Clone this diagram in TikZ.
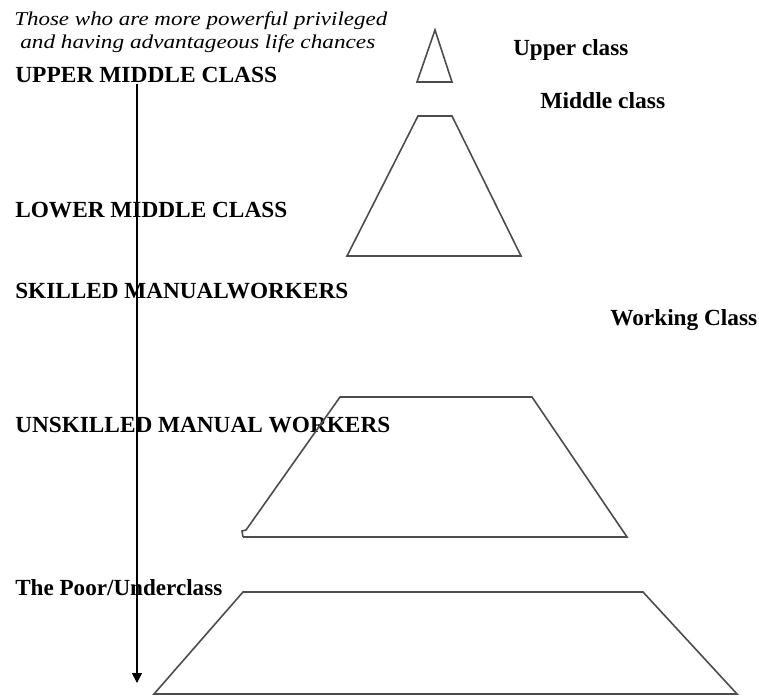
\documentclass[tikz,border=0pt]{standalone}
\usepackage{fontspec}
\setmainfont{Liberation Serif}
\usetikzlibrary{arrows.meta}
\newcommand\fitw[2]{\resizebox{\dimexpr0.75pt*#1\relax}{\height}{#2}}
\tikzset{
  lbl/.style={anchor=base west,inner sep=0pt,font=\fontsize{17.3}{20}\selectfont\bfseries},
  note/.style={anchor=base west,inner sep=0pt,font=\fontsize{14.7}{17}\selectfont\itshape},
  layer/.style={draw=black!70,line width=1.2pt,line join=miter},
  flow/.style={draw=black,line width=1.1pt,-{Triangle[length=7.5pt,width=7.5pt]}}
}
\begin{document}
\begin{tikzpicture}[x=0.75pt,y=-0.75pt]
\useasboundingbox (0,0) rectangle (759,695);
% texts
\node[note] (n1) at (14,26) {\fitw{373}{Those who are more powerful privileged}};
\node[note] (n2) at (20,49) {\fitw{355}{and having advantageous life chances}};
\node[lbl] (umc) at (15,83) {\fitw{262}{UPPER MIDDLE CLASS}};
\node[lbl] (uc) at (513,56) {\fitw{115}{Upper class}};
\node[lbl] (mc) at (540,109) {\fitw{125}{Middle class}};
\node[lbl] (lmc) at (15,218) {\fitw{272}{LOWER MIDDLE CLASS}};
\node[lbl] (smw) at (15,298) {\fitw{333}{SKILLED MANUALWORKERS}};
\node[lbl] (wc) at (610,325) {\fitw{147}{Working Class}};
\node[lbl] (umw) at (15,432) {\fitw{375}{UNSKILLED MANUAL WORKERS}};
\node[lbl] (poor) at (15,595) {\fitw{207}{The Poor/Underclass}};
% shapes
\draw[layer] (435,30) -- (452,82) -- (417,82) -- cycle;
\draw[layer] (418,116) -- (452,116) -- (521,256) -- (347,256) -- cycle;
\draw[layer] (243,537) -- (627,537) -- (532,397) -- (340,397) -- (246,530) -- (242,531) -- (243,537);
\draw[layer] (243,592) -- (643,592) -- (737,694) -- (154,694) -- cycle;
% arrow
\coordinate (a1) at (137,84);
\coordinate (a2) at (137,683);
\draw[flow] (a1) -- (a2);
\end{tikzpicture}
\end{document}
